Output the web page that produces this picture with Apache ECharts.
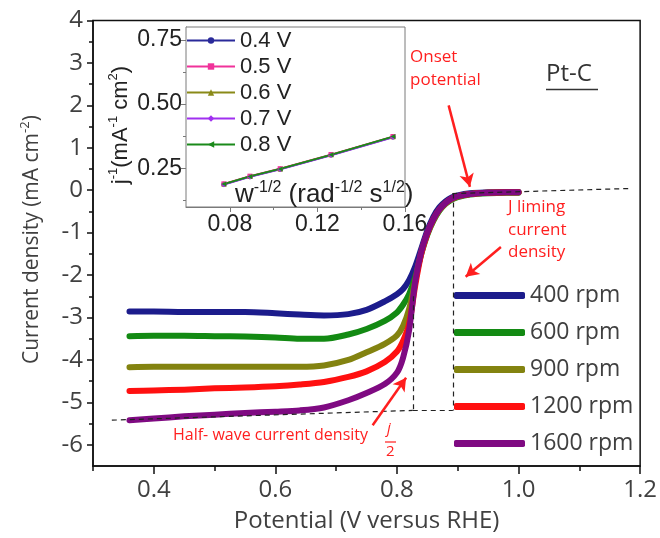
<!DOCTYPE html>
<html>
<head>
<meta charset="utf-8">
<script src="https://cdn.jsdelivr.net/npm/echarts@6/dist/echarts.min.js"></script>
<style>
  html, body { margin: 0; padding: 0; background: #fff; }
  #chart { width: 660px; height: 538px; }
</style>
</head>
<body>
<div id="chart"></div>
<script>
// ORR polarisation curves of Pt-C at several rotation rates (V vs RHE, mA cm^-2)
const potential = [0.36, 0.40, 0.45, 0.50, 0.55, 0.60, 0.64, 0.68, 0.72, 0.75, 0.78, 0.80, 0.81, 0.82, 0.83, 0.84, 0.85, 0.86, 0.87, 0.88, 0.89, 0.90, 0.92, 0.95, 0.98, 1.00];
const j400  = [-2.86, -2.86, -2.87, -2.87, -2.87, -2.90, -2.93, -2.95, -2.92, -2.82, -2.62, -2.45, -2.33, -2.12, -1.80, -1.38, -0.95, -0.62, -0.40, -0.26, -0.17, -0.12, -0.07, -0.05, -0.04, -0.04];
const j600  = [-3.44, -3.43, -3.43, -3.44, -3.45, -3.47, -3.50, -3.50, -3.40, -3.27, -3.08, -2.88, -2.70, -2.45, -2.05, -1.50, -1.05, -0.72, -0.48, -0.32, -0.22, -0.16, -0.10, -0.07, -0.06, -0.06];
const j900  = [-4.17, -4.16, -4.16, -4.16, -4.16, -4.16, -4.16, -4.13, -4.00, -3.82, -3.62, -3.42, -3.20, -2.80, -2.15, -1.47, -1.02, -0.70, -0.46, -0.31, -0.21, -0.15, -0.09, -0.06, -0.05, -0.05];
const j1200 = [-4.73, -4.72, -4.70, -4.67, -4.65, -4.62, -4.58, -4.52, -4.40, -4.27, -4.05, -3.80, -3.55, -3.15, -2.25, -1.50, -1.02, -0.68, -0.45, -0.30, -0.20, -0.14, -0.09, -0.06, -0.05, -0.05];
const j1600 = [-5.42, -5.38, -5.33, -5.29, -5.25, -5.22, -5.19, -5.12, -4.95, -4.78, -4.57, -4.30, -3.95, -3.30, -2.15, -1.45, -1.00, -0.68, -0.45, -0.30, -0.20, -0.14, -0.09, -0.06, -0.05, -0.05];
const rpmNames  = ['400 rpm', '600 rpm', '900 rpm', '1200 rpm', '1600 rpm'];
const rpmColors = ['#1c1c8c', '#138a13', '#838310', '#ff1010', '#7f0a82'];

// Koutecky-Levich plot: j^-1 against w^-1/2 at fixed potentials
const omegaInvSqrt = [0.0773, 0.0892, 0.1030, 0.1262, 0.1545];
const kl04 = [0.188, 0.218, 0.247, 0.302, 0.372];
const kl05 = [0.190, 0.220, 0.249, 0.304, 0.374];
const kl06 = [0.189, 0.219, 0.248, 0.303, 0.373];
const kl07 = [0.187, 0.217, 0.246, 0.301, 0.371];
const kl08 = [0.189, 0.219, 0.248, 0.303, 0.374];
const klNames   = ['0.4 V', '0.5 V', '0.6 V', '0.7 V', '0.8 V'];
const klColors  = ['#2a2a9a', '#f0329a', '#8a8a18', '#a030f0', '#1a8a1a'];
const klSymbols = ['circle', 'rect', 'triangle', 'diamond', 'triangle'];
const klRotate  = [0, 0, 0, 0, 90];

// tick positions
const mainXTicks = [0.4, 0.6, 0.8, 1.0, 1.2];
const mainXMinor = [0.3, 0.5, 0.7, 0.9, 1.1];
const mainYTicks = [-6, -5, -4, -3, -2, -1, 0, 1, 2, 3, 4];
const mainYMinor = [-5.5, -4.5, -3.5, -2.5, -1.5, -0.5, 0.5, 1.5, 2.5, 3.5];
const insetXTicks = [0.08, 0.12, 0.16];
const insetXMinor = [0.10, 0.14];
const insetYTicks = [0.25, 0.50, 0.75];
const insetYMinor = [0.125, 0.375, 0.625];

const MAIN_FONT = "'Open Sans', sans-serif";
const INSET_FONT = "'Liberation Sans', Arial, sans-serif";
const RED = '#ff1f1f';

const zip = (xs, ys) => xs.map((x, i) => [x, ys[i]]);
const chart = echarts.init(document.getElementById('chart'), null, { renderer: 'canvas' });

const hidden = { show: false };
function majorAxis(extra) {
  return Object.assign({ type: 'value', splitLine: hidden, axisPointer: hidden }, extra);
}

const rpmData = [j400, j600, j900, j1200, j1600];
const klData = [kl04, kl05, kl06, kl07, kl08];

const dash = { type: [5, 4], color: '#222', width: 1.2 };
const arrowStyle = { type: 'solid', color: RED, width: 2.5 };
function dashed(a, b) { return [{ coord: a, lineStyle: dash }, { coord: b }]; }
function arrow(a, b) { return [{ coord: a, lineStyle: arrowStyle, symbol: 'none' }, { coord: b, symbol: 'arrow', symbolSize: [11, 13] }]; }

const series = rpmNames.map((name, i) => ({
  name, type: 'line', xAxisIndex: 0, yAxisIndex: 0,
  data: zip(potential, rpmData[i]),
  showSymbol: false, smooth: 0.3,
  lineStyle: { width: 6, color: rpmColors[i], cap: 'round', join: 'round' },
  itemStyle: { color: rpmColors[i] },
  z: 3
}));

// guide lines and arrows
series[0].markLine = {
  silent: true, symbol: ['none', 'none'], label: { show: false }, animation: false,
  data: [
    dashed([0.891, -0.08], [1.182, 0.04]),
    dashed([0.892, -0.08], [0.892, -5.19]),
    dashed([0.331, -5.42], [0.826, -5.19]),
    dashed([0.826, -5.19], [0.892, -5.19]),
    dashed([0.826, -2.5], [0.826, -5.19]),
    arrow([0.885, 2.0], [0.920, 0.08]),
    arrow([0.971, -1.34], [0.913, -2.04]),
    arrow([0.760, -5.54], [0.815, -4.42])
  ]
};

klNames.forEach((name, i) => {
  series.push({
    name, type: 'line', xAxisIndex: 2, yAxisIndex: 2,
    data: zip(omegaInvSqrt, klData[i]),
    symbol: klSymbols[i], symbolSize: 5, symbolRotate: klRotate[i], showSymbol: true,
    lineStyle: { width: 1.8, color: klColors[i] },
    itemStyle: { color: klColors[i] },
    z: 4
  });
});

const supRich = (font, base, sup) => ({
  b: { fontFamily: font, fontSize: base, lineHeight: base + 6, verticalAlign: 'middle' },
  s: { fontFamily: font, fontSize: sup, lineHeight: sup, verticalAlign: 'top' }
});

const option = {
  animation: false,
  backgroundColor: '#fff',
  grid: [
    { left: 93, top: 20.5, right: 19, bottom: 72, show: true, borderColor: '#111', borderWidth: 1.5, backgroundColor: 'transparent', containLabel: false },
    { left: 186, top: 27, width: 219, height: 180, show: true, borderColor: '#7a7a7a', borderWidth: 1, backgroundColor: '#fff', containLabel: false, z: 1 }
  ],
  xAxis: [
    majorAxis({
      gridIndex: 0, position: 'bottom', min: 0.3, max: 1.2,
      axisLine: { show: true, onZero: false, lineStyle: { color: '#111', width: 1.5 } },
      axisTick: { show: true, customValues: mainXTicks, length: 8, lineStyle: { color: '#111', width: 1.5 } },
      axisLabel: { customValues: mainXTicks, formatter: v => v.toFixed(1), fontFamily: MAIN_FONT, fontSize: 24, color: '#404040', margin: 12 },
      name: 'Potential (V versus RHE)', nameLocation: 'middle', nameGap: 43,
      nameTextStyle: { fontFamily: MAIN_FONT, fontSize: 24, color: '#404040' }
    }),
    majorAxis({
      gridIndex: 0, position: 'bottom', offset: 0, min: 0.3, max: 1.2,
      axisLine: { show: false, onZero: false }, axisLabel: hidden,
      axisTick: { show: true, customValues: mainXMinor, length: 5, lineStyle: { color: '#111', width: 1.5 } }
    }),
    majorAxis({
      gridIndex: 1, position: 'bottom', min: 0.06, max: 0.16,
      axisLine: { show: true, onZero: false, lineStyle: { color: '#7a7a7a', width: 1 } },
      axisTick: { show: true, customValues: insetXTicks, length: 5, lineStyle: { color: '#7a7a7a' } },
      axisLabel: { customValues: insetXTicks, formatter: v => v.toFixed(2), fontFamily: INSET_FONT, fontSize: 23, color: '#222', margin: 6 }
    }),
    majorAxis({
      gridIndex: 1, position: 'bottom', offset: 0, min: 0.06, max: 0.16,
      axisLine: { show: false, onZero: false }, axisLabel: hidden,
      axisTick: { show: true, customValues: insetXMinor, length: 3, lineStyle: { color: '#7a7a7a' } }
    })
  ],
  yAxis: [
    majorAxis({
      gridIndex: 0, position: 'left', min: -6.5, max: 4,
      axisLine: { show: true, onZero: false, lineStyle: { color: '#111', width: 1.5 } },
      axisTick: { show: true, customValues: mainYTicks, length: 6, lineStyle: { color: '#111', width: 1.5 } },
      axisLabel: { customValues: mainYTicks, formatter: v => String(v), fontFamily: MAIN_FONT, fontSize: 24, color: '#404040', margin: 10 }
    }),
    majorAxis({
      gridIndex: 0, position: 'left', offset: 0, min: -6.5, max: 4,
      axisLine: { show: false, onZero: false }, axisLabel: hidden,
      axisTick: { show: true, customValues: mainYMinor, length: 4, lineStyle: { color: '#111', width: 1.5 } }
    }),
    majorAxis({
      gridIndex: 1, position: 'left', min: 0.1, max: 0.8,
      axisLine: { show: true, onZero: false, lineStyle: { color: '#7a7a7a', width: 1 } },
      axisTick: { show: true, customValues: insetYTicks, length: 5, lineStyle: { color: '#7a7a7a' } },
      axisLabel: { customValues: insetYTicks, formatter: v => v.toFixed(2), fontFamily: INSET_FONT, fontSize: 23, color: '#222', margin: 4 }
    }),
    majorAxis({
      gridIndex: 1, position: 'left', offset: 0, min: 0.1, max: 0.8,
      axisLine: { show: false, onZero: false }, axisLabel: hidden,
      axisTick: { show: true, customValues: insetYMinor, length: 3, lineStyle: { color: '#7a7a7a' } }
    })
  ],
  legend: [
    {
      data: rpmNames, orient: 'vertical', left: 454, top: 284, padding: 0,
      itemWidth: 71, itemHeight: 7, itemGap: 14, icon: 'roundRect', selectedMode: false,
      textStyle: { fontFamily: MAIN_FONT, fontSize: 23, color: '#404040', lineHeight: 20 }
    },
    {
      data: klNames, orient: 'vertical', left: 186, top: 29.5, padding: 0,
      itemWidth: 48, itemHeight: 8, itemGap: 4, selectedMode: false,
      textStyle: { fontFamily: INSET_FONT, fontSize: 22, color: '#222', lineHeight: 22 }
    }
  ],
  graphic: [
    // axis titles drawn rotated, reading bottom to top
    { type: 'text', x: 32, y: 364, rotation: Math.PI / 2, z: 10, style: {
      text: '{b|Current density (mA cm}{s|-2}{b|)}', align: 'left', verticalAlign: 'middle',
      fontFamily: MAIN_FONT, fontSize: 21, fill: '#404040', rich: supRich(MAIN_FONT, 21, 13)
    } },
    { type: 'text', x: 121, y: 125, rotation: Math.PI / 2, z: 10, style: {
      text: '{b|j}{s|-1}{b|(mA}{s|-1}{b| cm}{s|2}{b|)}', align: 'center', verticalAlign: 'middle',
      fontFamily: INSET_FONT, fontSize: 22, fill: '#222', rich: supRich(INSET_FONT, 22, 13)
    } },
    { type: 'text', left: 235, top: 180, z: 10, style: {
      text: '{b|w}{s|-1/2}{b| (rad}{s|-1/2}{b| s}{s|1/2}{b|)}',
      fontFamily: INSET_FONT, fill: '#222',
      rich: {
        b: { fontFamily: INSET_FONT, fontSize: 26, lineHeight: 30, verticalAlign: 'middle' },
        s: { fontFamily: INSET_FONT, fontSize: 16, lineHeight: 16, verticalAlign: 'top' }
      }
    } },
    { type: 'text', left: 410, top: 46, z: 10, style: { text: 'Onset\npotential', fontFamily: MAIN_FONT, fontSize: 17, lineHeight: 22.5, fill: RED } },
    { type: 'text', left: 546, top: 62, z: 10, style: { text: 'Pt-C', fontFamily: MAIN_FONT, fontSize: 24, fill: '#333' } },
    { type: 'line', z: 10, shape: { x1: 546, y1: 89.5, x2: 598, y2: 89.5 }, style: { stroke: '#333', lineWidth: 1.5 } },
    { type: 'text', left: 508, top: 196, z: 10, style: { text: 'J liming\ncurrent\ndensity', fontFamily: MAIN_FONT, fontSize: 17, lineHeight: 22.5, fill: RED } },
    { type: 'text', left: 173, top: 427, z: 10, style: { text: 'Half- wave current density', fontFamily: MAIN_FONT, fontSize: 16, fill: RED } },
    { type: 'text', left: 387, top: 421, z: 10, style: { text: 'j', fontFamily: MAIN_FONT, fontSize: 15, fontStyle: 'italic', fill: RED } },
    { type: 'line', z: 10, shape: { x1: 385, y1: 442, x2: 396, y2: 442 }, style: { stroke: RED, lineWidth: 1.2 } },
    { type: 'text', left: 386, top: 444, z: 10, style: { text: '2', fontFamily: MAIN_FONT, fontSize: 15, fill: RED } }
  ],
  series
};

chart.setOption(option);
</script>
</body>
</html>
